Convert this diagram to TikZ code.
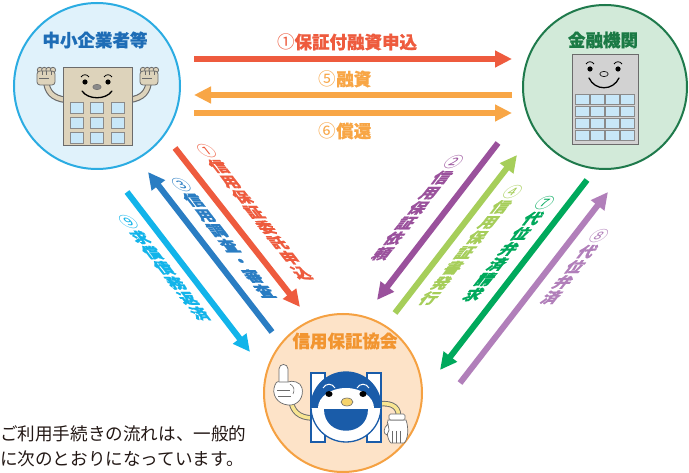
\documentclass[tikz,border=0pt]{standalone}
\usepackage{fontspec}
\newfontfamily\jpfont{Noto Sans CJK JP}[BoldFeatures={FakeBold=0.5}]
\usetikzlibrary{arrows.meta}
% circled step numbers in the regular face so the ring stays open
\newcommand{\stepno}[1]{{\mdseries #1}}

\definecolor{cred}{HTML}{EE5B3E}
\definecolor{corange}{HTML}{F8A646}
\definecolor{cblue}{HTML}{2A7DC3}
\definecolor{ccyan}{HTML}{12B4EA}
\definecolor{cpurple}{HTML}{9A519C}
\definecolor{clgreen}{HTML}{A6CE5A}
\definecolor{cgreen}{HTML}{00A95C}
\definecolor{clpurple}{HTML}{B17FBA}
\definecolor{smefill}{HTML}{E0F2FB}
\definecolor{smeedge}{HTML}{2BACE2}
\definecolor{smetext}{HTML}{1E6DB6}
\definecolor{bankfill}{HTML}{D2EAD9}
\definecolor{bankedge}{HTML}{1F7A4C}
\definecolor{banktext}{HTML}{1B7A45}
\definecolor{cgcfill}{HTML}{FDE3C8}
\definecolor{cgcedge}{HTML}{F5A142}
\definecolor{cgctext}{HTML}{F29530}
\definecolor{beige}{HTML}{DDD3BB}
\definecolor{darkline}{HTML}{6B6B6B}
\definecolor{winfill}{HTML}{C8E7F8}
\definecolor{wingrey}{HTML}{8A8A8A}
\definecolor{bldgrey}{HTML}{D2D2D2}
\definecolor{logoblue}{HTML}{1A5CA9}
\definecolor{armyellow}{HTML}{F8E591}
\definecolor{beak}{HTML}{F6D36B}
\definecolor{bodytext}{HTML}{231815}

\tikzset{
  flow/.style={line width=6pt, -{Triangle[length=17pt,width=16pt]}},
  hlabel/.style={font=\jpfont\bfseries\fontsize{17.5}{20}\selectfont, inner sep=0pt},
  % vertical column of characters, sheared along its arrow
  vlabel/.style={font=\jpfont\bfseries\fontsize{16.5}{17.5}\selectfont, align=center, inner sep=0pt},
  downright/.style={vlabel, xslant=-0.78, yscale=0.87},
  downleft/.style={vlabel, xslant=0.78, yscale=0.87},
  party/.style={circle, line width=2pt, inner sep=0pt},
  ptitle/.style={font=\jpfont\bfseries\fontsize{17.5}{20}\selectfont, inner sep=0pt},
  note/.style={font=\jpfont\fontsize{17.6}{20}\selectfont, text=bodytext, inner sep=0pt, anchor=west},
  win/.style={fill=winfill, draw=wingrey, line width=0.8pt},
  glove/.style={fill=white, draw=darkline, line width=0.7pt},
  armout/.style={line width=6.5pt, darkline, line cap=round},
  armin/.style={line width=4.2pt, beige, line cap=round},
  yarmout/.style={line width=5.5pt, darkline, line cap=round},
  yarmin/.style={line width=3.6pt, armyellow, line cap=round},
}

\begin{document}
\begin{tikzpicture}[x=1pt, y=-1pt]
\useasboundingbox (0,0) rectangle (689,473);
\fill[white] (0,0) rectangle (689,473);

% the three parties
\node[party, draw=smeedge, fill=smefill, minimum size=166pt] (sme) at (97,86) {};
\node[party, draw=bankedge, fill=bankfill, minimum size=164pt] (bank) at (605,87) {};
\node[party, draw=cgcedge, fill=cgcfill, minimum size=158pt] (cgc) at (343,393) {};

\node[ptitle, text=smetext] (smetitle) at (95,40) {中小企業者等};
\node[ptitle, text=banktext] (banktitle) at (603,40) {金融機関};
\node[ptitle, text=cgctext] (cgctitle) at (345,341) {信用保証協会};

% ---- small business mascot ----
\draw[armout] (66,100) .. controls (52,98) and (47,92) .. (46,80);
\draw[armin]  (66,100) .. controls (52,98) and (47,92) .. (46,80);
\draw[armout] (129,100) .. controls (143,98) and (148,92) .. (149,80);
\draw[armin]  (129,100) .. controls (143,98) and (148,92) .. (149,80);
\foreach \fx in {37,140} {
  \foreach \k in {0,...,3}
    \filldraw[fill=beige, draw=darkline, line width=0.8pt] ({\fx+3+4.3*\k},70) circle (2.7pt);
  \filldraw[fill=beige, draw=darkline, line width=0.8pt, rounded corners=3pt]
    (\fx,71) rectangle ({\fx+18},85);
  \draw[darkline, line width=0.6pt] ({\fx+5},71.5) -- ({\fx+5},75) ({\fx+9.5},71.5) -- ({\fx+9.5},75)
    ({\fx+14},71.5) -- ({\fx+14},75) ({\fx+2},78) -- ({\fx+12},78);
}
\filldraw[fill=beige, draw=darkline, line width=1pt] (63,68) rectangle (132,146);
\foreach \cx in {70,90.5,111}
  \foreach \cy in {102,117,132}
    \filldraw[win] (\cx,\cy) rectangle ++(13,11);
\fill (85,82) circle (2.6pt);
\fill (108,82) circle (2.6pt);
\filldraw[fill=wingrey, draw=darkline, line width=0.5pt] (97,87) ellipse (4.2pt and 2.7pt);
\draw[line width=1.3pt, line cap=round] (82,91) .. controls (88,100) and (106,100) .. (112,91);
\draw[line width=0.8pt] (81,77) .. controls (83,74) and (87,74) .. (89,77);
\draw[line width=0.8pt] (104,77) .. controls (106,74) and (110,74) .. (112,77);

% ---- bank mascot ----
\filldraw[fill=bldgrey, draw=darkline, line width=1pt] (572,55) rectangle (638,145);
\foreach \i in {0,...,3}
  \foreach \j in {0,...,3}
    \filldraw[win] ({575.5+15*\i},{94+12*\j}) rectangle ++(13.5,10.5);
\fill (590,69) circle (2.6pt);
\fill (618,69) circle (2.6pt);
\filldraw[fill=bldgrey, draw=black, line width=0.6pt] (604,74) ellipse (4.2pt and 2.6pt);
\draw[line width=1.3pt, line cap=round] (589,78) .. controls (595,91) and (613,91) .. (619,78);
\draw[line width=0.8pt] (586,64) .. controls (588,61) and (592,61) .. (594,64);
\draw[line width=0.8pt] (614,64) .. controls (616,61) and (620,61) .. (622,64);

% ---- guarantee corporation mascot ----
\draw[yarmout] (313,418) .. controls (299,418) and (292,411) .. (291,400);
\draw[yarmin]  (313,418) .. controls (299,418) and (292,411) .. (291,400);
\draw[yarmout] (379,404) .. controls (394,402) and (400,409) .. (398,418);
\draw[yarmin]  (379,404) .. controls (394,402) and (400,409) .. (398,418);
\filldraw[fill=white, draw=logoblue, line width=1.3pt] (311,373) rectangle (325,442);
\filldraw[fill=white, draw=logoblue, line width=1.3pt] (367,373) rectangle (381,442);
\fill[white] (346,407) circle (35pt);
\begin{scope}
  \clip (346,407) circle (35pt);
  \fill[logoblue] (300,360) rectangle (400,408);
  \fill[white] (346,408) ellipse (28pt and 20pt);
  \fill[logoblue] (324,409) .. controls (324,438) and (368,438) .. (368,409) -- cycle;
\end{scope}
\draw[logoblue, line width=1.3pt] (346,407) circle (35pt);
\draw[white, line width=1pt] (323,388) .. controls (326,383) and (332,383) .. (335,388);
\draw[white, line width=1pt] (357,388) .. controls (360,383) and (366,383) .. (369,388);
\fill (329,394) ellipse (3.6pt and 3pt);
\fill (363,394) ellipse (3.6pt and 3pt);
\filldraw[fill=beak, draw=darkline, line width=0.6pt] (347,402) ellipse (6pt and 4pt);
% pointing glove
\filldraw[glove] (279,387) -- (279,369) .. controls (279,363) and (288,363) .. (288,369) -- (288,387) -- cycle;
\filldraw[glove] (275,385) .. controls (271,394) and (277,404) .. (288,405)
  .. controls (299,406) and (304,396) .. (302,388) .. controls (301,382) and (292,380) .. (288,382)
  -- (280,382) .. controls (277,381) and (275,383) .. (275,385) -- cycle;
\draw[darkline, line width=0.6pt] (277,390) -- (290,390) (278,396) -- (291,396);
\draw[darkline, line width=0.6pt] (290,384) .. controls (294,386) and (295,390) .. (293,394);
% hanging glove
\filldraw[glove] (388,420) .. controls (386,428) and (387,440) .. (391,443) -- (404,443)
  .. controls (408,440) and (409,428) .. (406,420) -- cycle;
\filldraw[glove] (388,424) .. controls (383,428) and (383,434) .. (387,435) -- (389,430) -- cycle;
\filldraw[glove, rounded corners=1.5pt] (389,414) rectangle (405,420);
\draw[darkline, line width=0.6pt] (392,431) -- (392,443) (396,431) -- (396,443) (400,431) -- (400,443);

% ---- flows between lender and business ----
\coordinate (a1s) at (194,59);  \coordinate (a1e) at (512,59);
\coordinate (a5s) at (512,95);  \coordinate (a5e) at (194,95);
\coordinate (a6s) at (194,113); \coordinate (a6e) at (512,113);
\draw[flow, cred] (a1s) -- (a1e);
\draw[flow, corange] (a5s) -- (a5e);
\draw[flow, corange] (a6s) -- (a6e);
\node[hlabel, text=cred] (l1) at (347,42) {\stepno{①}保証付融資申込};
\node[hlabel, text=corange] (l5) at (345,79) {\stepno{⑤}融資};
\node[hlabel, text=corange] (l6) at (345,131) {\stepno{⑥}償還};

% ---- flows between business and guarantee corporation ----
\coordinate (b1s) at (175,148); \coordinate (b1e) at (300,307);
\coordinate (b3s) at (272,332); \coordinate (b3e) at (148,172);
\coordinate (b9s) at (127,192); \coordinate (b9e) at (250,352);
\draw[flow, cred] (b1s) -- (b1e);
\draw[flow, cblue] (b3s) -- (b3e);
\draw[flow, ccyan] (b9s) -- (b9e);
\node[downright, text=cred] (v1) at (254,212) {\stepno{①}\\信\\用\\保\\証\\委\\託\\申\\込};
\node[downright, text=cblue] (v3) at (223,238) {\stepno{③}\\信\\用\\調\\査\\・\\審\\査};
\node[downright, text=ccyan] (v9) at (164,268) {\stepno{⑨}\\求\\償\\債\\務\\返\\済};

% ---- flows between lender and guarantee corporation ----
\coordinate (c2s) at (498,143); \coordinate (c2e) at (377,300);
\coordinate (c4s) at (395,313); \coordinate (c4e) at (517,155);
\coordinate (c7s) at (587,180); \coordinate (c7e) at (440,370);
\coordinate (c8s) at (460,383); \coordinate (c8e) at (608,192);
\draw[flow, cpurple] (c2s) -- (c2e);
\draw[flow, clgreen] (c4s) -- (c4e);
\draw[flow, cgreen] (c7s) -- (c7e);
\draw[flow, clpurple] (c8s) -- (c8e);
\node[downleft, text=cpurple] (v2) at (418,208) {\stepno{②}\\信\\用\\保\\証\\依\\頼};
\node[downleft, text=clgreen] (v4) at (471,245) {\stepno{④}\\信\\用\\保\\証\\書\\発\\行};
\node[downleft, text=cgreen] (v7) at (509,249) {\stepno{⑦}\\代\\位\\弁\\済\\請\\求};
\node[downleft, text=clpurple] (v8) at (575,267) {\stepno{⑧}\\代\\位\\弁\\済};

% ---- explanatory note ----
\node[note] (note1) at (0,434) {ご利用手続きの流れは、一般的};
\node[note] (note2) at (0,459) {に次のとおりになっています。};
\end{tikzpicture}
\end{document}
